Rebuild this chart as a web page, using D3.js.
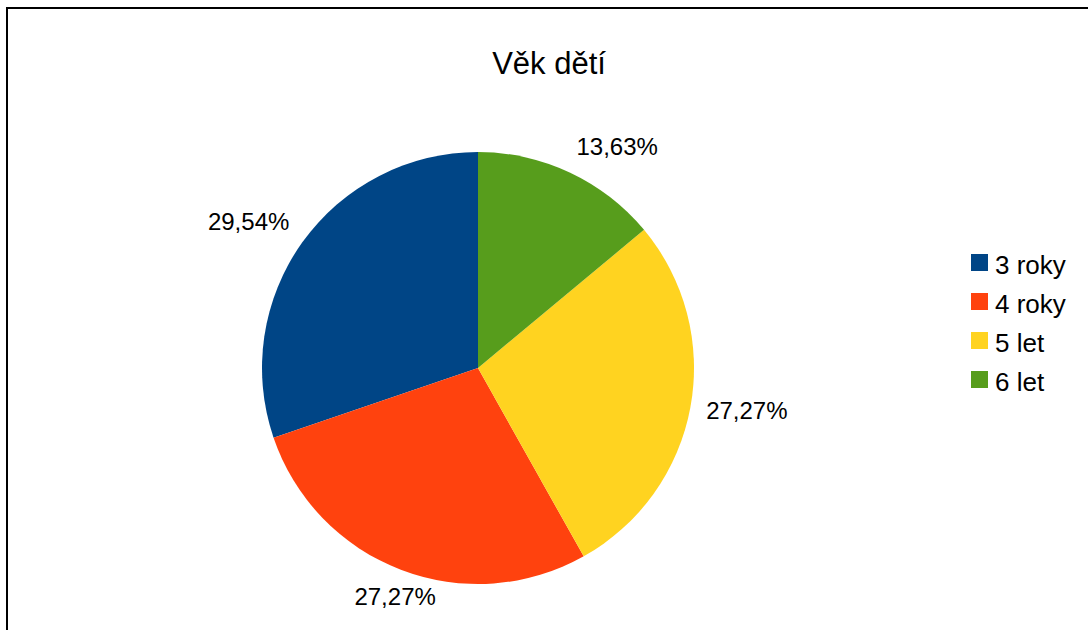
<!DOCTYPE html>
<meta charset="utf-8">
<script src="https://d3js.org/d3.v7.min.js"></script>
<style>
  body { margin: 0; background: #fff; }
  text { font-family: "Liberation Sans", Arial, sans-serif; fill: #000; }
</style>
<div id="chart"></div>
<script>

// data (slice sizes are the counts, labels are the printed shares)
var categories = ["3 roky", "4 roky", "5 let", "6 let"];
var values = [13, 12, 12, 6];
var labels = ["29,54%", "27,27%", "27,27%", "13,63%"];
var colors = ["#004586", "#ff420e", "#ffd320", "#579d1c"];

var width = 1088, height = 630;
var cx = 478, cy = 368, radius = 216;

var svg = d3.select("#chart")
  .append("svg")
    .attr("width", width)
    .attr("height", height);

// frame (right and bottom edges run off the picture)
svg.append("rect")
  .attr("x", 7).attr("y", 8)
  .attr("width", 1200).attr("height", 800)
  .attr("fill", "none")
  .attr("stroke", "#000")
  .attr("stroke-width", 2);

svg.append("text")
  .attr("x", 549)
  .attr("y", 74)
  .attr("text-anchor", "middle")
  .style("font-size", "31px")
  .text("Věk dětí");

var data = categories.map(function(c, i) {
  return {name: c, value: values[i], label: labels[i], color: colors[i]};
});

// counter-clockwise from 12 o'clock, like the office chart
var pie = d3.pie()
  .sort(null)
  .value(function(d) { return d.value; })
  .startAngle(0)
  .endAngle(-2 * Math.PI);

var arc = d3.arc().innerRadius(0).outerRadius(radius);

var g = svg.append("g")
  .attr("transform", "translate(" + cx + "," + cy + ")");

var arcs = pie(data);

g.selectAll("path")
  .data(arcs)
  .enter()
  .append("path")
    .attr("d", arc)
    .attr("fill", function(d) { return d.data.color; });

// value labels outside the slices, aligned by the direction of the slice
var labelR = radius + 16, hh = 12;

var lbl = g.selectAll(".lbl")
  .data(arcs)
  .enter()
  .append("text")
    .attr("class", "lbl")
    .attr("text-anchor", "middle")
    .style("font-size", "24px")
    .text(function(d) { return d.data.label; });

lbl.each(function(d) {
  var hw = this.getComputedTextLength() / 2;
  var a = (d.startAngle + d.endAngle) / 2;
  var dx = Math.sin(a), dy = -Math.cos(a);
  // math angle, counter-clockwise from 3 o'clock
  var deg = (90 - a * 180 / Math.PI) % 360;
  if (deg < 0) deg += 360;
  var ox = 0, oy = 0;
  if (deg <= 22.5 || deg > 337.5) { ox = hw; }
  else if (deg <= 67.5) { ox = hw; oy = -hh; }
  else if (deg <= 112.5) { oy = -hh; }
  else if (deg <= 157.5) { ox = -hw; oy = -hh; }
  else if (deg <= 202.5) { ox = -hw; }
  else if (deg <= 247.5) { ox = -hw; oy = hh; }
  else if (deg <= 292.5) { oy = hh; }
  else { ox = hw; oy = hh; }
  d3.select(this)
    .attr("x", labelR * dx + ox)
    .attr("y", labelR * dy + oy + 8.6);
});

// legend
var legend = svg.append("g")
  .attr("transform", "translate(971,254)");

var rows = legend.selectAll("g")
  .data(data)
  .enter()
  .append("g")
    .attr("transform", function(d, i) { return "translate(0," + (i * 39) + ")"; });

rows.append("rect")
  .attr("width", 17)
  .attr("height", 17)
  .attr("fill", function(d) { return d.color; });

rows.append("text")
  .attr("x", 24)
  .attr("y", 20)
  .style("font-size", "26px")
  .text(function(d) { return d.name; });

</script>
